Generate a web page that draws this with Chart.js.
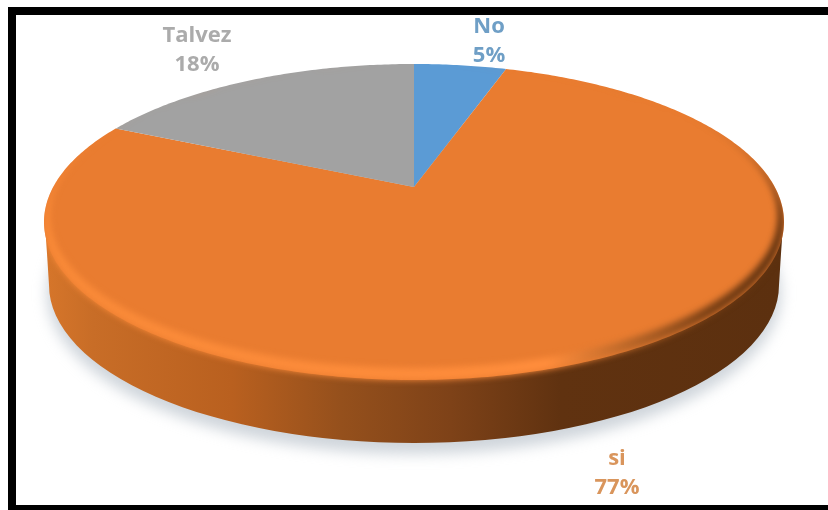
<!DOCTYPE html>
<html>
<head>
<meta charset="utf-8">
<title>Pie</title>
<script src="https://cdn.jsdelivr.net/npm/chart.js@4/dist/chart.umd.min.js"></script>
<style>
  html, body { margin: 0; padding: 0; background: #fff; overflow: hidden; }
  #wrap { position: relative; width: 828px; height: 510px; }
  #frame {
    position: absolute; left: 8px; top: 7px; right: 0; bottom: 0;
    border-left: 8px solid #000; border-top: 8px solid #000; border-bottom: 5px solid #000;
    pointer-events: none;
  }
</style>
</head>
<body>
<div id="wrap">
  <canvas id="pieChart" width="828" height="510"></canvas>
  <div id="frame"></div>
</div>
<script>
const categories = ['No', 'si', 'Talvez'];
const percentValues = [5, 77, 18];
const sliceColors = ['#5b9bd5', '#e97c30', '#a2a2a2'];
const labelColors = ['#6f9fc6', '#d9955c', '#ababab'];

// disc geometry
const disc = { cx: 414, cy: 222, rx: 370, ry: 158, tilt: -0.2215 };
const wall = { cx: 414, cy: 285, rx: 365, ry: 158 };
const labelSpots = [[489, 27], [617, 459], [197, 36]];
const lineGap = 29;

// circle point -> tilted disc point, keeps the outline an ellipse but moves the hub back
function project(angle, r = 1) {
  const u = r * Math.cos(angle);
  const v = r * Math.sin(angle);
  const t = disc.tilt;
  const d = 1 + t * v;
  return {
    x: disc.cx + disc.rx * u * Math.sqrt(1 - t * t) / d,
    y: disc.cy + disc.ry * (v + t) / d
  };
}

function drawShadow(ctx) {
  ctx.save();
  ctx.filter = 'blur(7px)';
  ctx.fillStyle = 'rgba(175, 185, 195, 0.6)';
  ctx.beginPath();
  ctx.ellipse(wall.cx, wall.cy + 8, wall.rx + 2, wall.ry + 3, 0, 0, Math.PI * 2);
  ctx.fill();
  ctx.restore();
}

function wallPath(ctx) {
  ctx.moveTo(disc.cx - disc.rx + 1, disc.cy);
  ctx.lineTo(disc.cx + disc.rx - 1, disc.cy);
  ctx.lineTo(wall.cx + wall.rx, wall.cy);
  ctx.ellipse(wall.cx, wall.cy, wall.rx, wall.ry, 0, 0, Math.PI);
  ctx.closePath();
}

function drawWall(ctx) {
  const g = ctx.createLinearGradient(wall.cx - wall.rx, 0, wall.cx + wall.rx, 0);
  g.addColorStop(0, '#d5752a');
  g.addColorStop(0.06, '#c86d27');
  g.addColorStop(0.25, '#b9601f');
  g.addColorStop(0.4, '#95501c');
  g.addColorStop(0.55, '#7e4218');
  g.addColorStop(0.7, '#603210');
  g.addColorStop(1, '#5c300f');
  ctx.save();
  ctx.fillStyle = g;
  ctx.beginPath();
  wallPath(ctx);
  ctx.fill();
  ctx.restore();
}

function drawSlice(ctx, arc, color) {
  ctx.fillStyle = color;
  ctx.beginPath();
  const hub = project(0, 0);
  ctx.moveTo(hub.x, hub.y);
  const steps = Math.ceil((arc.endAngle - arc.startAngle) * 80);
  for (let i = 0; i <= steps; i++) {
    const p = project(arc.startAngle + (arc.endAngle - arc.startAngle) * i / steps);
    ctx.lineTo(p.x, p.y);
  }
  ctx.closePath();
  ctx.fill();
}

// soft lit crescent round the front of the disc, going dark on the right
function drawBevel(ctx) {
  const g = ctx.createLinearGradient(disc.cx - disc.rx, 0, disc.cx + disc.rx, 0);
  g.addColorStop(0, '#f98a38');
  g.addColorStop(0.68, '#ff8d3c');
  g.addColorStop(0.78, '#c06a2a');
  g.addColorStop(0.9, '#7a4015');
  g.addColorStop(1, '#5c300f');
  ctx.save();
  // keep the glow on the solid, not on the white around it
  ctx.beginPath();
  ctx.ellipse(disc.cx, disc.cy, disc.rx, disc.ry, 0, 0, Math.PI * 2);
  wallPath(ctx);
  ctx.clip('nonzero');
  ctx.filter = 'blur(3px)';
  ctx.fillStyle = g;
  ctx.beginPath();
  ctx.ellipse(disc.cx, disc.cy, disc.rx, disc.ry, 0, 0, Math.PI * 2);
  ctx.ellipse(disc.cx, disc.cy - 6, disc.rx - 6, disc.ry - 6, 0, 0, Math.PI * 2);
  ctx.fill('evenodd');
  ctx.restore();
}

const tiltedDisc = {
  id: 'tiltedDisc',
  beforeDatasetDraw(chart, args) {
    const ctx = chart.ctx;
    const arcs = chart.getDatasetMeta(args.index).data;
    drawShadow(ctx);
    drawWall(ctx);
    arcs.forEach((arc, i) => drawSlice(ctx, arc, sliceColors[i]));
    drawBevel(ctx);
    return false;
  },
  afterDraw(chart) {
    const ctx = chart.ctx;
    ctx.save();
    ctx.font = 'bold 22px "Open Sans"';
    ctx.textAlign = 'center';
    ctx.textBaseline = 'middle';
    categories.forEach((name, i) => {
      const [x, y] = labelSpots[i];
      ctx.fillStyle = labelColors[i];
      ctx.fillText(name, x, y);
      ctx.fillText(percentValues[i] + '%', x, y + lineGap);
    });
    ctx.restore();
  }
};

new Chart(document.getElementById('pieChart'), {
  type: 'pie',
  data: {
    labels: categories,
    datasets: [{ data: percentValues, backgroundColor: sliceColors, borderWidth: 0 }]
  },
  options: {
    responsive: false,
    animation: false,
    plugins: { legend: { display: false }, tooltip: { enabled: false } }
  },
  plugins: [tiltedDisc]
});
</script>
</body>
</html>
